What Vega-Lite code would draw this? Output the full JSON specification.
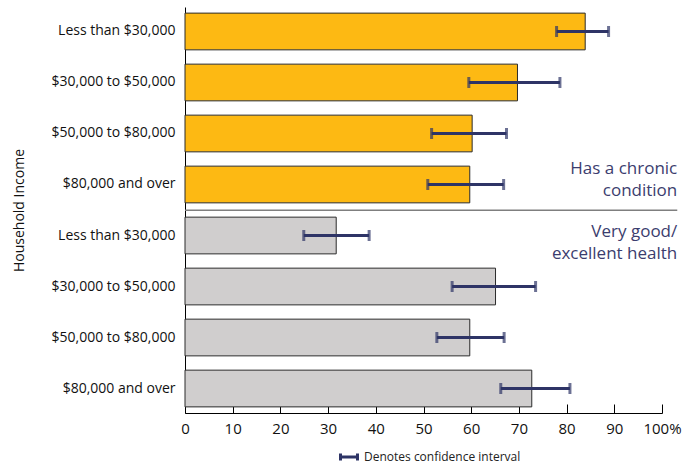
{
  "$schema": "https://vega.github.io/schema/vega-lite/v6.json",
  "width": 477,
  "height": 406,
  "padding": {"left": 12, "top": 7, "right": 5, "bottom": 5},
  "config": {"font": "Open Sans", "view": {"stroke": null}},
  "datasets": {
    "bars": [
      {"group": "Has a chronic condition", "id": "1|Less than $30,000", "value": 83.9, "lo": 77.9, "hi": 88.8, "ci": "Denotes confidence interval"},
      {"group": "Has a chronic condition", "id": "2|$30,000 to $50,000", "value": 69.7, "lo": 59.5, "hi": 78.6, "ci": "Denotes confidence interval"},
      {"group": "Has a chronic condition", "id": "3|$50,000 to $80,000", "value": 60.2, "lo": 51.7, "hi": 67.4, "ci": "Denotes confidence interval"},
      {"group": "Has a chronic condition", "id": "4|$80,000 and over", "value": 59.7, "lo": 50.9, "hi": 66.8, "ci": "Denotes confidence interval"},
      {"group": "Very good/excellent health", "id": "5|Less than $30,000", "value": 31.7, "lo": 24.9, "hi": 38.6, "ci": "Denotes confidence interval"},
      {"group": "Very good/excellent health", "id": "6|$30,000 to $50,000", "value": 65.1, "lo": 56.0, "hi": 73.5, "ci": "Denotes confidence interval"},
      {"group": "Very good/excellent health", "id": "7|$50,000 to $80,000", "value": 59.7, "lo": 52.8, "hi": 66.9, "ci": "Denotes confidence interval"},
      {"group": "Very good/excellent health", "id": "8|$80,000 and over", "value": 72.7, "lo": 66.2, "hi": 80.7, "ci": "Denotes confidence interval"}
    ],
    "notes": [
      {"id": "4|$80,000 and over", "x": 103.2, "label": "Has a chronic\ncondition", "shift": 3},
      {"id": "5|Less than $30,000", "x": 103.2, "label": "Very good/\nexcellent health", "shift": 15}
    ],
    "sep": [
      {"id": "4|$80,000 and over", "x": 0, "x2": 103.2}
    ]
  },
  "encoding": {
    "y": {
      "field": "id",
      "type": "nominal",
      "sort": null,
      "scale": {
        "domain": ["1|Less than $30,000", "2|$30,000 to $50,000", "3|$50,000 to $80,000", "4|$80,000 and over", "5|Less than $30,000", "6|$30,000 to $50,000", "7|$50,000 to $80,000", "8|$80,000 and over"],
        "paddingInner": 0.28,
        "paddingOuter": 0.12
      },
      "axis": {
        "title": "Household Income",
        "titleFontSize": 14,
        "titleFontWeight": "normal",
        "titleColor": "#111111",
        "titlePadding": 25,
        "labelExpr": "split(datum.label, '|')[1]",
        "labelFontSize": 14,
        "labelColor": "#111111",
        "labelPadding": 10,
        "ticks": false,
        "domainColor": "#000000",
        "domainWidth": 1
      }
    }
  },
  "layer": [
    {
      "data": {"name": "bars"},
      "mark": {"type": "bar", "stroke": "#2b2b2b", "strokeWidth": 1},
      "encoding": {
        "x": {
          "field": "value",
          "type": "quantitative",
          "scale": {"domain": [0, 100], "nice": false},
          "axis": {
            "title": null,
            "values": [0, 10, 20, 30, 40, 50, 60, 70, 80, 90, 100],
            "labelExpr": "datum.value == 100 ? '100%' : datum.label",
            "labelFlush": false,
            "labelOverlap": false,
            "labelFontSize": 15,
            "labelColor": "#111111",
            "labelPadding": 17,
            "tickSize": -9,
            "tickColor": "#000000",
            "domainColor": "#000000",
            "grid": false
          }
        },
        "fill": {
          "field": "group",
          "type": "nominal",
          "scale": {"domain": ["Has a chronic condition", "Very good/excellent health"], "range": ["#FDB913", "#D0CECE"]},
          "legend": null
        }
      }
    },
    {
      "data": {"name": "sep"},
      "mark": {"type": "rule", "color": "#7f7f7f", "strokeWidth": 1.5},
      "encoding": {
        "x": {"field": "x", "type": "quantitative"},
        "x2": {"field": "x2"},
        "y": {"field": "id", "type": "nominal", "bandPosition": 1.2}
      }
    },
    {
      "data": {"name": "bars"},
      "mark": {"type": "rule", "strokeWidth": 3},
      "encoding": {
        "x": {"field": "lo", "type": "quantitative"},
        "x2": {"field": "hi"},
        "stroke": {
          "field": "ci",
          "type": "nominal",
          "scale": {"range": ["#2E3466"]},
          "legend": {
            "title": null,
            "orient": "none",
            "legendX": 154,
            "legendY": 440,
            "symbolType": "M-1,-0.4L-1,0.4M-1,0L1,0M1,-0.4L1,0.4",
            "symbolSize": 289,
            "symbolStrokeWidth": 3,
            "labelFontSize": 12,
            "labelColor": "#222222",
            "labelOffset": 5
          }
        }
      }
    },
    {
      "data": {"name": "bars"},
      "mark": {"type": "tick", "color": "#2E3466", "thickness": 3, "size": 11},
      "encoding": {
        "x": {"field": "lo", "type": "quantitative"}
      }
    },
    {
      "data": {"name": "bars"},
      "mark": {"type": "tick", "color": "#2E3466", "thickness": 3, "size": 11},
      "encoding": {
        "x": {"field": "hi", "type": "quantitative"}
      }
    },
    {
      "data": {"name": "notes"},
      "mark": {"type": "text", "align": "right", "baseline": "middle", "fontSize": 17, "color": "#3B3D6E", "lineBreak": "\n", "lineHeight": 22},
      "encoding": {
        "x": {"field": "x", "type": "quantitative"},
        "text": {"field": "label"},
        "yOffset": {"field": "shift", "type": "quantitative", "scale": null}
      }
    }
  ]
}
